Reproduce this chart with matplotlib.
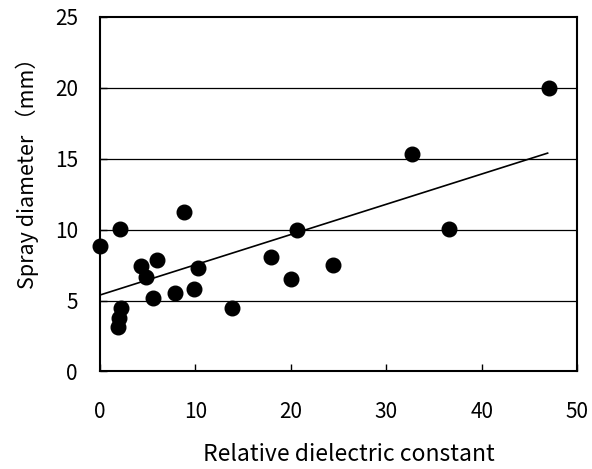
import matplotlib
matplotlib.use("Agg")
import matplotlib.pyplot as plt
import numpy as np

plt.rcParams['font.family'] = ['Noto Sans CJK JP', 'DejaVu Sans']

# relative dielectric constant vs spray diameter (mm)
eps = [0.0, 2.1, 2.2, 2.0, 1.9, 4.3, 4.8, 5.6, 6.0, 7.9, 8.8, 9.85, 10.3,
       13.8, 17.9, 20.0, 20.6, 24.4, 32.7, 36.6, 47.0]
diam = [8.85, 10.05, 4.5, 3.75, 3.15, 7.4, 6.65, 5.15, 7.85, 5.55, 11.25,
        5.8, 7.3, 4.5, 8.05, 6.55, 9.95, 7.5, 15.35, 10.05, 20.0]

# linear trend line as drawn
trend_x = [0.0, 46.9]
trend_slope = 0.2133
trend_icpt = 5.39

fig = plt.figure(figsize=(5.92, 4.69), dpi=100)
ax = fig.add_axes([0.169, 0.208, 0.806, 0.756])

for yv in [5, 10, 15, 20]:
    ax.axhline(yv, color='black', lw=0.9, zorder=1)

tx = np.array(trend_x)
ax.plot(tx, trend_icpt + trend_slope * tx, color='black', lw=1.2, zorder=2)
ax.plot(eps, diam, 'o', color='black', ms=10.5, clip_on=False, zorder=3)

ax.set_xlim(0, 50)
ax.set_ylim(0, 25)
ax.set_xticks(range(0, 51, 10))
ax.set_yticks(range(0, 26, 5))
ax.tick_params(direction='in', length=5, width=1, labelsize=15)
ax.tick_params(axis='x', pad=21)
ax.tick_params(axis='y', pad=16)
for s in ax.spines.values():
    s.set_linewidth(1.5)

ax.set_xlabel('Relative dielectric constant', fontsize=16.5)
ax.set_ylabel('Spray diameter （mm）', fontsize=15.5)
ax.xaxis.set_label_coords(0.521, -0.235)
ax.xaxis.label.set_va('center')
ax.yaxis.set_label_coords(-0.153, 0.575)
ax.yaxis.label.set_va('center')

fig.savefig('out.png', dpi=100)
